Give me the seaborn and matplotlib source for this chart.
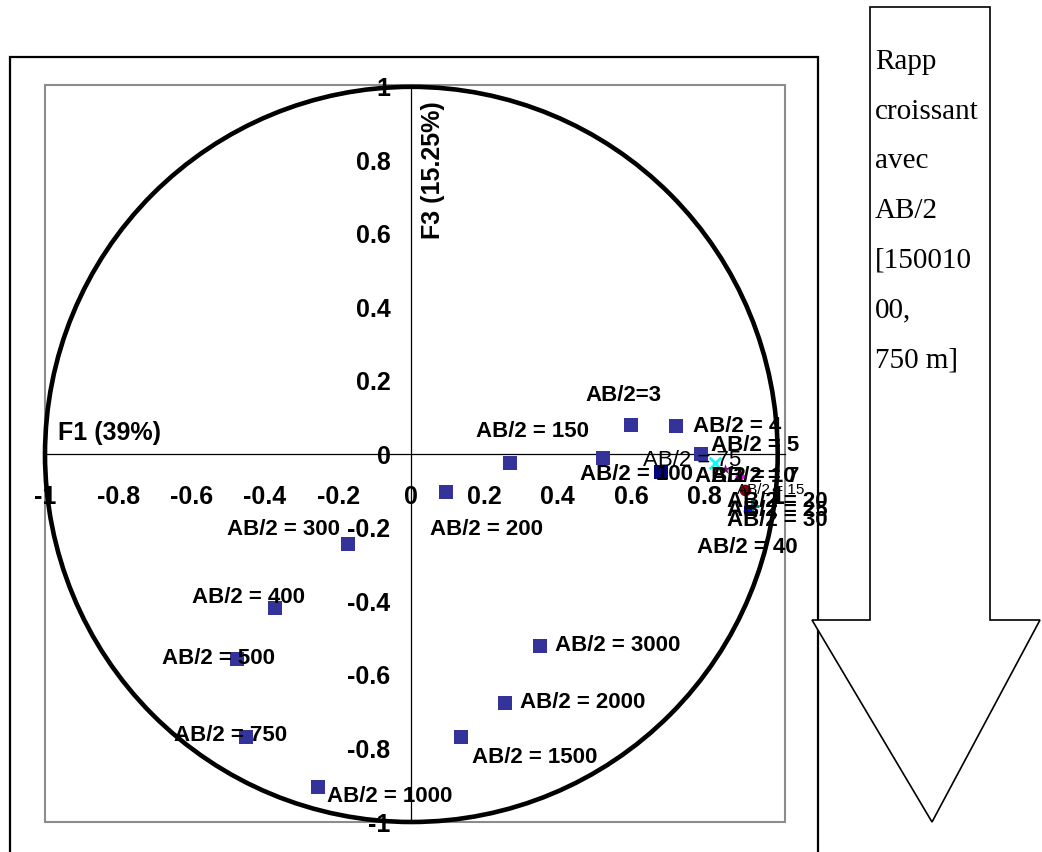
import matplotlib
matplotlib.use("Agg")
import matplotlib.pyplot as plt
from matplotlib.patches import Rectangle, Polygon, Circle
import seaborn as sns
import pandas as pd

# ---------------- data ----------------
labels = ["AB/2=3", "AB/2 = 4", "AB/2 = 5", "AB/2 = 7", "AB/2 = 10", "AB/2 = 15",
          "AB/2 = 20", "AB/2 = 25", "AB/2 = 30", "AB/2 = 40", "", "AB/2 = 75",
          "AB/2 = 100", "AB/2 = 150", "AB/2 = 200", "AB/2 = 300", "AB/2 = 400",
          "AB/2 = 500", "AB/2 = 750", "AB/2 = 1000", "AB/2 = 1500", "AB/2 = 2000",
          "AB/2 = 3000"]
f1 = [0.600, 0.723, 0.791, 0.856, 0.897, 0.911, 0.930, 0.914, 0.919, 0.930, 0.524,
      0.829, 0.682, 0.270, 0.095, -0.172, -0.371, -0.475, -0.450, -0.254, 0.136,
      0.256, 0.352]
f3 = [0.081, 0.076, 0.000, -0.041, -0.060, -0.098, -0.141, -0.146, -0.152, -0.157,
      -0.011, -0.024, -0.049, -0.024, -0.103, -0.244, -0.417, -0.556, -0.770,
      -0.905, -0.770, -0.675, -0.520]
series = ["main", "main", "main", "s7", "s10", "s15", "s20", "s25", "s30", "s40",
          "main", "s75", "s100", "main", "main", "main", "main", "main", "main",
          "main", "main", "main", "main"]
x_ticks = [-1, -0.8, -0.6, -0.4, -0.2, 0, 0.2, 0.4, 0.6, 0.8, 1]
x_tick_labels = ["-1", "-0.8", "-0.6", "-0.4", "-0.2", "0", "0.2", "0.4", "0.6", "0.8", "1"]
y_ticks = [-1, -0.8, -0.6, -0.4, -0.2, 0, 0.2, 0.4, 0.6, 0.8, 1]
y_tick_labels = ["-1", "-0.8", "-0.6", "-0.4", "-0.2", "0", "0.2", "0.4", "0.6", "0.8", "1"]
x_title = "F1 (39%)"
y_title = "F3 (15.25%)"
note_lines = ["Rapp", "croissant", "avec", "AB/2", "[150010", "00,", "750 m]"]

# ---------------- styles ----------------
series_style = {
    "main": dict(color="#333399", marker="s", s=100),
    "s100": dict(color="#000080", marker="s", s=100),
    "s75": dict(color="#00FFFF", marker="x", s=70),
    "s7": dict(color="#800080", marker="*", s=60),
    "s10": dict(color="#FF00FF", marker="D", s=30),
    "s15": dict(color="#800000", marker="o", s=70),
    "s20": dict(color="#008080", marker="+", s=90),
    "s25": dict(color="#00FFFF", marker="^", s=30),
    "s30": dict(color="#0000FF", marker="s", s=40),
    "s40": dict(color="#0000FF", marker="_", s=60),
}
# label offsets in pixels (dx, dy down-positive), horizontal alignment, style
label_style = {
    "AB/2=3": (-8, -29, "center", "bold", 16),
    "AB/2 = 4": (17, 0, "left", "bold", 16),
    "AB/2 = 5": (10, -9, "left", "bold", 16),
    "AB/2 = 7": (-14, 7, "left", "bold", 16),
    "AB/2 = 10": (-45, 0, "left", "bold", 16),
    "AB/2 = 15": (-8, 0, "left", "normal", 11),
    "AB/2 = 20": (-25, -5, "left", "bold", 16),
    "AB/2 = 25": (-19, 2, "left", "bold", 16),
    "AB/2 = 30": (-21, 10, "left", "bold", 16),
    "AB/2 = 40": (-55, 35, "left", "bold", 16),
    "AB/2 = 75": (-72, -3, "left", "normal", 16),
    "AB/2 = 100": (-81, 2, "left", "bold", 16),
    "AB/2 = 150": (22, -32, "center", "bold", 16),
    "AB/2 = 200": (-16, 37, "left", "bold", 16),
    "AB/2 = 300": (-8, -15, "right", "bold", 16),
    "AB/2 = 400": (30, -10, "right", "bold", 16),
    "AB/2 = 500": (38, 0, "right", "bold", 16),
    "AB/2 = 750": (41, -2, "right", "bold", 16),
    "AB/2 = 1000": (9, 9, "left", "bold", 16),
    "AB/2 = 1500": (11, 20, "left", "bold", 16),
    "AB/2 = 2000": (15, 0, "left", "bold", 16),
    "AB/2 = 3000": (15, 0, "left", "bold", 16),
}

df = pd.DataFrame({"label": labels, "F1": f1, "F3": f3, "series": series})

sns.set_theme(style="white")
plt.rcParams["font.family"] = ["Liberation Sans", "DejaVu Sans"]

W, H = 1042, 852
fig = plt.figure(figsize=(W / 100, H / 100), dpi=100)
fig.patch.set_facecolor("white")

def fx(px):
    return px / W

def fy(py):
    return 1 - py / H

ax = fig.add_axes([fx(45), fy(822), (785 - 45) / W, (822 - 85) / H])
ax.set_xlim(-0.998, 1.020)
ax.set_ylim(-0.992, 1.005)

# gray plot-area border
ax.add_patch(Rectangle((0, 0), 1, 1, transform=ax.transAxes, fill=False,
                       edgecolor="#8c8c8c", lw=1.5, zorder=0, clip_on=False))

# points
for name, sty in series_style.items():
    sub = df[df["series"] == name]
    if sub.empty:
        continue
    kw = dict(data=sub, x="F1", y="F3", color=sty["color"], marker=sty["marker"],
              s=sty["s"], ax=ax, legend=False, zorder=4, clip_on=False)
    if sty["marker"] in ("x", "+", "_"):
        kw["linewidth"] = 2
    else:
        kw["linewidth"] = 0
    sns.scatterplot(**kw)

# axes through the origin
for side in ["top", "right"]:
    ax.spines[side].set_visible(False)
ax.spines["left"].set_position(("data", 0))
ax.spines["bottom"].set_position(("data", 0))
for side in ["left", "bottom"]:
    ax.spines[side].set_color("black")
    ax.spines[side].set_linewidth(0.9)
    ax.spines[side].set_zorder(1)

ax.set_xticks(x_ticks)
ax.set_xticklabels(x_tick_labels)
ax.set_yticks(y_ticks)
ax.set_yticklabels(y_tick_labels)
ax.tick_params(axis="x", direction="out", length=6, width=0.9, color="black",
               pad=16, labelsize=18)
ax.tick_params(axis="y", direction="out", length=6, width=0.9, color="black",
               pad=9, labelsize=18)
for t in ax.get_xticklabels() + ax.get_yticklabels():
    t.set_fontweight("bold")
    t.set_color("black")
ax.set_xlabel("")
ax.set_ylabel("")

# correlation circle
ax.add_patch(Circle((0, 0), 1.0, fill=False, edgecolor="black", lw=3.3,
                    zorder=2, clip_on=False))

# point labels
for lab, xv, yv in zip(labels, f1, f3):
    if not lab:
        continue
    dx, dy, ha, wt, fs = label_style[lab]
    ax.annotate(lab, (xv, yv), xytext=(dx * 0.72, -dy * 0.72),
                textcoords="offset points", ha=ha, va="center",
                fontsize=fs, fontweight=wt, color="black", zorder=5,
                annotation_clip=False)

# axis titles
ax.text(fx(58), fy(433), x_title, transform=fig.transFigure, ha="left",
        va="center", fontsize=18, fontweight="bold", color="black")
ax.text(fx(433), fy(170), y_title, transform=fig.transFigure, ha="center",
        va="center", rotation=90, fontsize=18, fontweight="bold", color="black")

# outer chart frame
fig.patches.append(Rectangle((fx(10), -0.02), fx(818) - fx(10), fy(57) + 0.02,
                             transform=fig.transFigure, fill=False,
                             edgecolor="black", lw=1.6, zorder=0))

# arrow shape on the right
arrow_px = [(870, 7), (990, 7), (990, 620), (1040, 620), (932, 822),
            (812, 620), (870, 620)]
fig.patches.append(Polygon([(fx(a), fy(b)) for a, b in arrow_px], closed=True,
                           transform=fig.transFigure, facecolor="white",
                           edgecolor="black", lw=1.2, zorder=3))
for i, line in enumerate(note_lines):
    fig.text(fx(875), fy(62 + i * 49.7), line, ha="left", va="center",
             fontsize=21, family=["Liberation Serif", "DejaVu Serif"],
             color="black", zorder=4)

fig.savefig("out.png", dpi=100, facecolor="white")
